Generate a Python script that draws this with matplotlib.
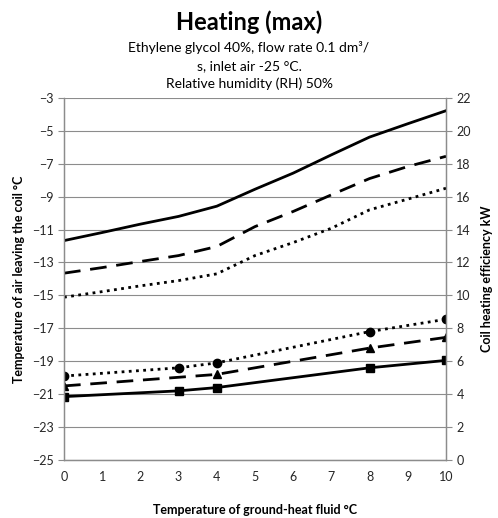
import matplotlib.pyplot as plt

plt.rcParams['font.family'] = ['Lato', 'DejaVu Sans']

# fluid temperature (x) values
x_eff = [0, 1, 2, 3, 4, 5, 6, 7, 8, 9, 10]
x_all = [0, 3, 4, 8, 10]
x_tri = [0, 4, 8, 10]

# coil heating efficiency, kW (right axis), read at each whole degree
eff_solid = [13.33, 13.82, 14.33, 14.8, 15.42, 16.45, 17.43, 18.54, 19.62, 20.43, 21.22]
eff_dashed = [11.35, 11.69, 12.06, 12.42, 12.97, 14.18, 15.1, 16.11, 17.1, 17.83, 18.45]
eff_dotted = [9.89, 10.23, 10.58, 10.9, 11.31, 12.42, 13.21, 14.08, 15.2, 15.85, 16.51]

# temperature of air leaving the coil, degC (left axis)
temp_square = [-21.15, -20.8, -20.6, -19.4, -18.95]
temp_triangle = [-20.5, -19.8, -18.2, -17.55]
temp_circle = [-19.9, -19.4, -19.1, -17.2, -16.45]

left_ticks = list(range(-25, -2, 2))
right_ticks = list(range(0, 23, 2))
x_ticks = list(range(0, 11))

grid_col = '#8c8c8c'
dash = (6, 3.5)
dot = (1, 1.6)

fig = plt.figure(figsize=(4.98, 5.18), dpi=100)
ax = fig.add_axes([0.1285, 0.112, 0.767, 0.699])
ax2 = ax.twinx()

# lower group with markers, left axis
ax.plot(x_all, temp_square, color='black', lw=2, marker='s', ms=6)
ax.plot(x_tri, temp_triangle, color='black', lw=2, dashes=dash, marker='^', ms=6)
ax.plot(x_all, temp_circle, color='black', lw=2, dashes=dot, marker='o', ms=6)

# upper group, right axis
ax2.plot(x_eff, eff_solid, color='black', lw=2)
ax2.plot(x_eff, eff_dashed, color='black', lw=2, dashes=dash)
ax2.plot(x_eff, eff_dotted, color='black', lw=2, dashes=dot)

ax.set_xlim(0, 10)
ax.set_ylim(-25, -3)
ax2.set_ylim(0, 22)
ax.set_xticks(x_ticks)
ax.set_yticks(left_ticks)
ax2.set_yticks(right_ticks)

ax.yaxis.grid(True, color=grid_col, lw=0.8)
ax.set_axisbelow(True)

for a in (ax, ax2):
    a.spines['top'].set_visible(False)
    for s in ('left', 'right', 'bottom'):
        a.spines[s].set_color(grid_col)
        a.spines[s].set_linewidth(0.9)
    a.tick_params(colors=grid_col, labelcolor='#262626', labelsize=9, length=4, width=0.8)
ax.tick_params(axis='x', length=0, pad=8)

ax.set_xlabel('Temperature of ground-heat fluid °C', fontsize=9, fontweight='bold', labelpad=15)
ax.set_ylabel('Temperature of air leaving the coil °C', fontsize=9, fontweight='bold', labelpad=5)
ax2.set_ylabel('Coil heating efficiency kW', fontsize=9, fontweight='bold', labelpad=7)

fig.text(0.5, 0.957, 'Heating (max)', ha='center', va='center', fontsize=17, fontweight='bold')
fig.text(0.5, 0.908, 'Ethylene glycol 40%, flow rate 0.1 dm³/', ha='center', va='center', fontsize=10)
fig.text(0.5, 0.873, 's, inlet air -25 °C.', ha='center', va='center', fontsize=10)
fig.text(0.5, 0.838, 'Relative humidity (RH) 50%', ha='center', va='center', fontsize=10)

fig.savefig('out.png', dpi=100)
